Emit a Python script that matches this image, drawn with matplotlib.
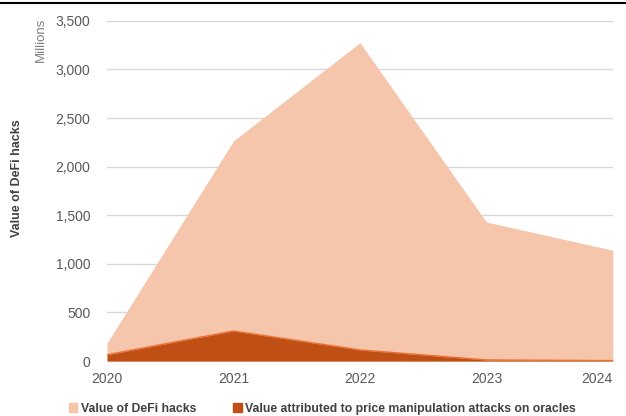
import matplotlib.pyplot as plt
from matplotlib.lines import Line2D
from matplotlib.patches import Patch
from matplotlib.ticker import FuncFormatter

years = [2020, 2021, 2022, 2023, 2024]
defi_hacks = [185, 2265, 3275, 1430, 1140]          # millions
oracle_attacks = [65, 310, 115, 12, 5]             # millions

LIGHT = "#F5C6AB"
DARK = "#C04F15"
EDGE = "#E97132"
GRID = "#D9D9D9"
TICK = "#595959"

plt.rcParams["font.family"] = ["Liberation Sans", "DejaVu Sans"]

fig = plt.figure(figsize=(6.26, 4.16), dpi=100)
ax = fig.add_axes([0.171, 0.132, 0.808, 0.818])

ax.fill_between(years, defi_hacks, 0, color=LIGHT, linewidth=0, zorder=2)
ax.fill_between(years, oracle_attacks, 0, color=DARK, linewidth=0, zorder=3)
ax.plot(years, oracle_attacks, color=EDGE, linewidth=1.0, zorder=4)

ax.set_xlim(2020, 2024)
ax.set_ylim(0, 3500)
ax.set_yticks(range(0, 3501, 500))
ax.set_xticks(years)
ax.yaxis.set_major_formatter(FuncFormatter(lambda v, _: f"{v:,.0f}"))
ax.grid(axis="y", color=GRID, linewidth=1, zorder=0)
ax.set_axisbelow(True)
for s in ax.spines.values():
    s.set_visible(False)
ax.tick_params(length=0, colors=TICK, labelsize=10)
ax.tick_params(axis="y", pad=12)
ax.tick_params(axis="x", pad=8)
# last year label sits on the figure edge
xlabels = ax.get_xticklabels()
xlabels[-1].set_horizontalalignment("right")
xlabels[-1].set_x(2024)

fig.text(0.027, 0.572, "Value of DeFi hacks", rotation=90, ha="center", va="center",
         fontsize=9, fontweight="bold", color="#404040")
fig.text(0.066, 0.905, "Millions", rotation=90, ha="center", va="center",
         fontsize=9.5, color="#7F7F7F")

fig.add_artist(Line2D([0, 1], [0.992, 0.992], color="black", linewidth=1.5,
                      transform=fig.transFigure))

handles = [Patch(color=LIGHT, label="Value of DeFi hacks"),
           Patch(color=DARK, label="Value attributed to price manipulation attacks on oracles")]
fig.legend(handles=handles, loc="center", bbox_to_anchor=(0.515, 0.018), ncol=2,
           frameon=False, handlelength=0.7, handleheight=0.7, handletextpad=0.3,
           columnspacing=3.0, prop={"weight": "bold", "size": 8.8},
           labelcolor="#404040")

fig.savefig("out.png", dpi=100)
